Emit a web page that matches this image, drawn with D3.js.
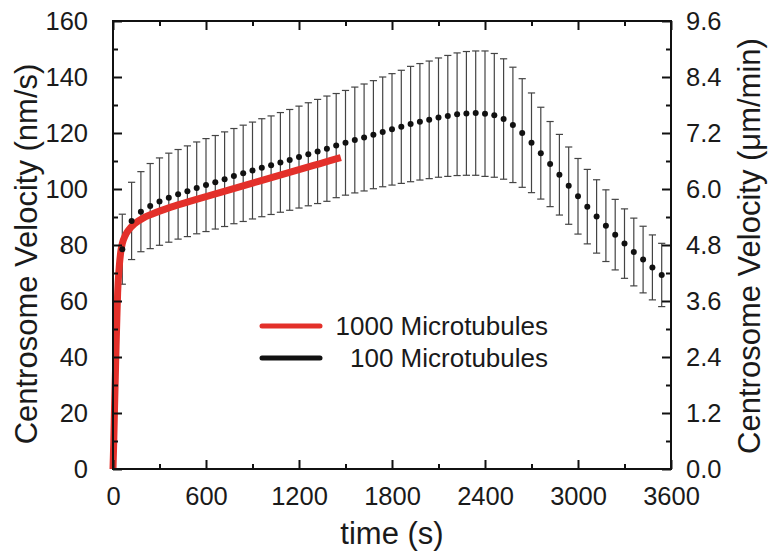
<!DOCTYPE html>
<html><head><meta charset="utf-8">
<script src="https://cdn.jsdelivr.net/npm/d3@7/dist/d3.min.js"></script>
<style>
body{margin:0;background:#fff;}
text{font-family:"Liberation Sans",Arial,Helvetica,sans-serif;fill:#1a1a1a;}
</style>
</head><body>
<svg id="chart" width="769" height="558"></svg>
<script>
// ---- data ----
const blackTime = [60,120,180,240,300,360,420,480,540,600,660,720,780,840,900,960,1020,1080,1140,1200,
  1260,1320,1380,1440,1500,1560,1620,1680,1740,1800,1860,1920,1980,2040,2100,2160,2220,2280,2340,2400,
  2460,2520,2580,2640,2700,2760,2820,2880,2940,3000,3060,3120,3180,3240,3300,3360,3420,3480,3540];
const blackMean = [78.5,88.6,91.9,93.9,95.5,96.9,98.1,99.2,100.4,101.4,102.4,103.5,104.6,105.6,106.6,107.6,108.5,109.5,110.4,111.4,
  112.4,113.4,114.4,115.5,116.5,117.5,118.4,119.4,120.4,121.3,122.2,123.2,124.0,124.7,125.5,126.1,126.7,127.0,127.1,126.9,
  126.3,125.0,122.9,120.0,116.5,112.8,108.9,105.1,101.2,97.4,93.7,90.2,86.9,83.7,80.5,77.5,74.8,72.0,69.3];
const blackErr = [12.5,13.8,14.3,15.2,15.6,15.9,16.0,16.2,16.4,16.6,16.7,16.9,17.0,17.2,17.3,17.5,17.6,17.8,18.0,18.2,
  18.4,18.6,18.8,18.6,18.7,18.9,19.1,19.3,19.6,19.9,20.2,20.6,20.8,21.0,21.3,21.6,21.9,22.1,22.2,22.4,
  22.1,21.5,20.6,19.4,17.8,16.4,15.2,14.4,13.8,13.5,13.3,13.1,12.8,12.6,12.4,12.1,11.9,11.6,11.3];
const redTime = [0,5,10,15,20,25,30,40,50,60,80,100,140,200,250,300,400,500,600,700,800,900,1000,1100,1200,1300,1400,1470];
const redVel  = [0,10,22,33,44,54,63,72,77.5,80.5,83.5,85.3,87.6,89.8,91.0,92.1,94.0,95.7,97.3,98.9,100.5,102.1,103.7,105.3,106.9,108.5,110.1,111.2];

const xTicks = [0,600,1200,1800,2400,3000,3600];
const xMinor = [300,900,1500,2100,2700,3300];
const yLeftTicks = [0,20,40,60,80,100,120,140,160];
const yLeftMinor = [10,30,50,70,90,110,130,150];
const yRightTicks = [0,1.2,2.4,3.6,4.8,6.0,7.2,8.4,9.6];
const yRightMinor = [0.6,1.8,3.0,4.2,5.4,6.6,7.8,9.0];
const legendLabels = ["1000 Microtubules","100 Microtubules"];
const seriesColors = ["#e3302a","#111111"];
const xTitle = "time (s)";
const yLeftTitle = "Centrosome Velocity (nm/s)";
const yRightTitle = "Centrosome Velocity (\u03bcm/min)";

// ---- layout ----
const L = 113, R = 671, T = 21, B = 469;
const svg = d3.select("#chart");
const x = d3.scaleLinear().domain([0,3600]).range([L,R]);
const y = d3.scaleLinear().domain([0,160]).range([B,T]);
const y2 = d3.scaleLinear().domain([0,9.6]).range([B,T]);

const FS = 25.5;

// error bars
const eb = svg.append("g");
blackTime.forEach((t,i)=>{
  const cx = x(t), m = blackMean[i], e = blackErr[i];
  eb.append("line").attr("x1",cx).attr("x2",cx).attr("y1",y(m+e)).attr("y2",y(m-e))
    .attr("stroke","#444").attr("stroke-width",1.2);
  [m+e,m-e].forEach(v=>{
    eb.append("line").attr("x1",cx-3.6).attr("x2",cx+3.6).attr("y1",y(v)).attr("y2",y(v))
      .attr("stroke","#444").attr("stroke-width",1.2);
  });
});

// red line
const redData = redTime.map((t,i)=>[t,redVel[i]]);
svg.append("path").datum(redData)
  .attr("d", d3.line().x(d=>x(d[0])).y(d=>y(d[1])).curve(d3.curveMonotoneX))
  .attr("fill","none").attr("stroke",seriesColors[0]).attr("stroke-width",7);

// black dots
svg.append("g").selectAll("circle").data(blackTime).join("circle")
  .attr("cx",(d)=>x(d)).attr("cy",(d,i)=>y(blackMean[i])).attr("r",3).attr("fill","#111");

// axes
function styleAxis(g){
  g.select(".domain").remove();
  g.selectAll("line").attr("stroke","#111").attr("stroke-width",2);
  g.selectAll("text").style("font-size",FS+"px").attr("fill","#1a1a1a");
}
const maj = 9, mnr = 5;
svg.append("g").attr("transform",`translate(0,${B})`)
  .call(d3.axisBottom(x).tickValues(xTicks).tickSize(-maj).tickPadding(18).tickFormat(d3.format("d"))).call(styleAxis);
svg.append("g").attr("transform",`translate(0,${B})`)
  .call(d3.axisBottom(x).tickValues(xMinor).tickSize(-mnr).tickFormat("")).call(styleAxis);
svg.append("g").attr("transform",`translate(0,${T})`)
  .call(d3.axisTop(x).tickValues(xTicks).tickSize(-maj).tickFormat("")).call(styleAxis);
svg.append("g").attr("transform",`translate(0,${T})`)
  .call(d3.axisTop(x).tickValues(xMinor).tickSize(-mnr).tickFormat("")).call(styleAxis);
svg.append("g").attr("transform",`translate(${L},0)`)
  .call(d3.axisLeft(y).tickValues(yLeftTicks).tickSize(-maj).tickPadding(25).tickFormat(d3.format("d"))).call(styleAxis);
svg.append("g").attr("transform",`translate(${L},0)`)
  .call(d3.axisLeft(y).tickValues(yLeftMinor).tickSize(-mnr).tickFormat("")).call(styleAxis);
svg.append("g").attr("transform",`translate(${R},0)`)
  .call(d3.axisRight(y2).tickValues(yRightTicks).tickSize(-maj).tickPadding(15).tickFormat(d3.format(".1f"))).call(styleAxis);
svg.append("g").attr("transform",`translate(${R},0)`)
  .call(d3.axisRight(y2).tickValues(yRightMinor).tickSize(-mnr).tickFormat("")).call(styleAxis);

// frame
svg.append("rect").attr("x",L).attr("y",T).attr("width",R-L).attr("height",B-T)
  .attr("fill","none").attr("stroke","#111").attr("stroke-width",2);

// titles
svg.append("text").attr("x",(L+R)/2).attr("y",544).attr("text-anchor","middle")
  .style("font-size","31px").text(xTitle);
svg.append("text").attr("transform",`translate(37,254) rotate(-90)`).attr("text-anchor","middle")
  .style("font-size","31px").text(yLeftTitle);
svg.append("text").attr("transform",`translate(760,246) rotate(-90)`).attr("text-anchor","middle")
  .style("font-size","31px").text(yRightTitle);

// legend
const lg = svg.append("g");
[0,1].forEach(i=>{
  const ly = 326 + i*32;
  lg.append("line").attr("x1",262).attr("x2",320).attr("y1",ly).attr("y2",ly)
    .attr("stroke",seriesColors[i]).attr("stroke-width",5).attr("stroke-linecap","round");
  lg.append("text").attr("x",548).attr("y",ly+9).attr("text-anchor","end")
    .style("font-size","26px").text(legendLabels[i]);
});
</script>
</body></html>
